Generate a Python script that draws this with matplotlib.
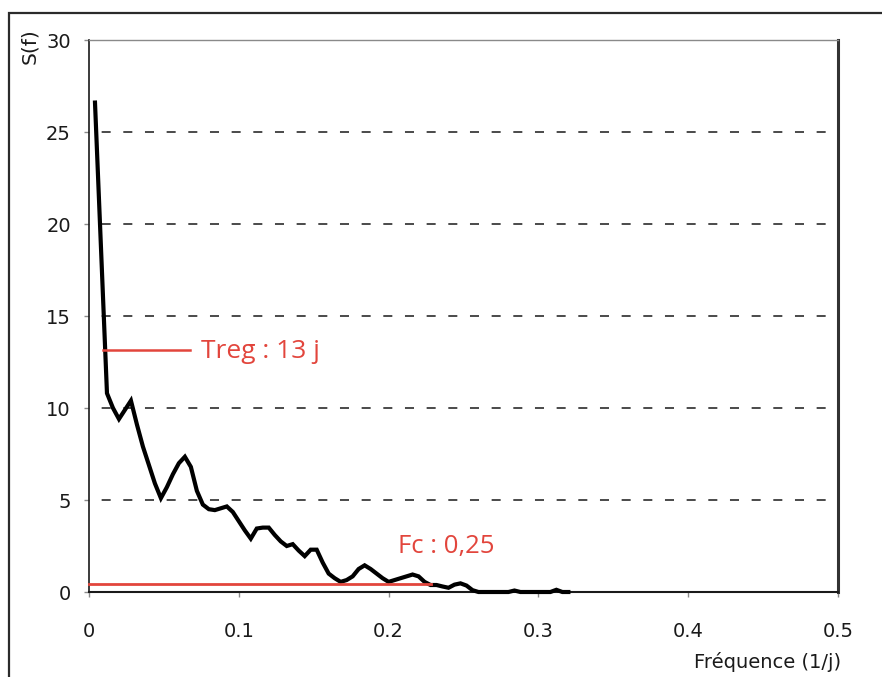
import matplotlib
matplotlib.use("Agg")
import matplotlib.pyplot as plt
from matplotlib.patches import Rectangle

plt.rcParams['font.family'] = ['DejaVu Sans']
plt.rcParams['lines.scale_dashes'] = False

# ---- data ----
freq = [0.004, 0.008, 0.012, 0.016, 0.020, 0.024, 0.028, 0.032, 0.036, 0.040,
        0.044, 0.048, 0.052, 0.056, 0.060, 0.064, 0.068, 0.072, 0.076, 0.080,
        0.084, 0.088, 0.092, 0.096, 0.100, 0.104, 0.108, 0.112, 0.116, 0.120,
        0.124, 0.128, 0.132, 0.136, 0.140, 0.144, 0.148, 0.152, 0.156, 0.160,
        0.164, 0.168, 0.172, 0.176, 0.180, 0.184, 0.188, 0.192, 0.196, 0.200,
        0.204, 0.208, 0.212, 0.216, 0.220, 0.224, 0.228, 0.232, 0.236, 0.240,
        0.244, 0.248, 0.252, 0.256, 0.260, 0.270, 0.280, 0.284, 0.288, 0.300,
        0.308, 0.312, 0.316, 0.320]
spectrum = [26.6, 18.7, 10.8, 10.0, 9.4, 9.9, 10.4, 9.1, 7.9, 6.9,
            5.9, 5.1, 5.7, 6.4, 7.0, 7.35, 6.8, 5.5, 4.75, 4.5,
            4.45, 4.55, 4.65, 4.35, 3.85, 3.35, 2.9, 3.45, 3.5, 3.5,
            3.1, 2.75, 2.5, 2.6, 2.25, 1.95, 2.3, 2.3, 1.6, 1.0,
            0.75, 0.55, 0.65, 0.85, 1.25, 1.45, 1.25, 1.0, 0.75, 0.55,
            0.65, 0.75, 0.85, 0.95, 0.85, 0.55, 0.38, 0.38, 0.3, 0.23,
            0.4, 0.47, 0.35, 0.1, 0.0, 0.0, 0.0, 0.08, 0.0, 0.0,
            0.0, 0.12, 0.0, 0.0]

treg_x = [0.0093, 0.0675]
treg_y = [13.15, 13.15]
fc_x = [0.0, 0.228]
fc_y = [0.42, 0.42]

x_ticks = [0, 0.1, 0.2, 0.3, 0.4, 0.5]
x_ticklabels = ['0', '0.1', '0.2', '0.3', '0.4', '0.5']
y_ticks = [0, 5, 10, 15, 20, 25, 30]
grid_levels = [5, 10, 15, 20, 25]

W, H = 882, 677
fig = plt.figure(figsize=(W / 100, H / 100), dpi=100)
fig.patch.set_facecolor('white')

# outer frame (cropped on the right and bottom)
fig.patches.append(Rectangle((9 / W, -0.05), 1.1, (H - 13) / H + 0.05,
                             transform=fig.transFigure, fill=False,
                             edgecolor='#2b2b2b', linewidth=1.6))

ax = fig.add_axes([89 / W, 85 / H, 749 / W, 552 / H])
ax.set_xlim(0, 0.5)
ax.set_ylim(0, 30)

red = '#e2453c'
for g in grid_levels:
    ax.axhline(g, color='#4a4a4a', linewidth=1.4,
               linestyle=(6.5, (6.5, 9.1)), zorder=1)

ax.plot(freq, spectrum, color='black', linewidth=3.0, solid_joinstyle='miter',
        zorder=4, clip_on=False)
ax.plot(treg_x, treg_y, color=red, linewidth=1.8, zorder=5)
ax.plot(fc_x, fc_y, color=red, linewidth=2.0, zorder=5, clip_on=False)

ax.text(0.0745, 13.05, 'Treg : 13 j', color=red, fontsize=19,
        family='Open Sans', va='center', ha='left')
ax.text(0.206, 2.45, 'Fc : 0,25', color=red, fontsize=18.5,
        family='Open Sans', va='center', ha='left')

ax.set_xticks(x_ticks)
ax.set_xticklabels(x_ticklabels)
ax.set_yticks(y_ticks)
ax.tick_params(axis='both', direction='out', length=3.6, width=1,
               color='#8a8a8a', labelsize=14, labelcolor='#1a1a1a')
ax.tick_params(axis='y', pad=9.5)
ax.tick_params(axis='x', pad=18)

ax.spines['left'].set_color('#1a1a1a')
ax.spines['left'].set_linewidth(1.2)
ax.spines['bottom'].set_color('#1a1a1a')
ax.spines['bottom'].set_linewidth(1.5)
ax.spines['top'].set_color('#8a8a8a')
ax.spines['top'].set_linewidth(1.0)
ax.spines['right'].set_color('#333333')
ax.spines['right'].set_linewidth(2.2)

fig.text(30 / W, 1 - 46 / H, 'S(f)', rotation=90, fontsize=14.5,
         ha='center', va='center', color='#1a1a1a')
fig.text(841 / W, 1 - 662 / H, 'Fréquence (1/j)', fontsize=14,
         ha='right', va='center', color='#1a1a1a')

fig.savefig('out.png', dpi=100)
